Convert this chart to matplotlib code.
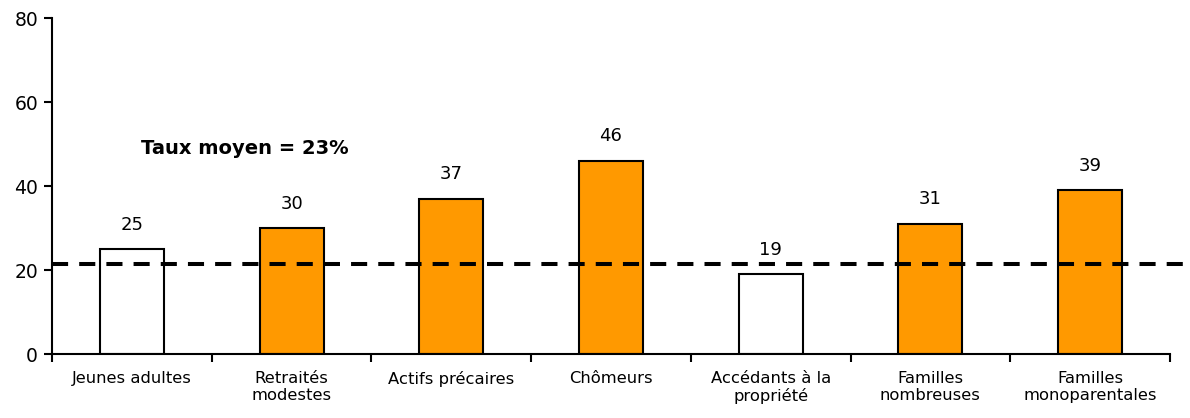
import matplotlib
matplotlib.use("Agg")
import matplotlib.pyplot as plt
import numpy as np

categories = ["Jeunes adultes", "Retraités\nmodestes", "Actifs précaires", "Chômeurs",
              "Accédants à la\npropriété", "Familles\nnombreuses", "Familles\nmonoparentales"]
values = [25, 30, 37, 46, 19, 31, 39]
highlight = [False, True, True, True, False, True, True]
mean_rate = 21.5
mean_label = "Taux moyen = 23%"
yticks = [0, 20, 40, 60, 80]

plt.rcParams['font.family'] = ['DejaVu Sans']
fig = plt.figure(figsize=(11.9, 4.18), dpi=100)
ax = fig.add_axes([52/1190, 64/418, (1170-52)/1190, (354-18)/418])

x = np.arange(len(categories))
colors = ["#FF9900" if h else "white" for h in highlight]
ax.bar(x, values, width=0.4, color=colors, edgecolor="black", linewidth=1.5, zorder=2)

for xi, v in zip(x, values):
    ax.annotate(str(v), (xi, v), xytext=(0, 17.5), textcoords="offset points",
                ha="center", va="center", fontsize=13)

ax.axhline(mean_rate, xmin=0, xmax=1.02, color="black", linestyle=(0, (4, 2.75)),
           linewidth=2.9, clip_on=False, zorder=3)
ax.text(0.055, 49, mean_label, fontsize=14, fontweight="bold", ha="left", va="center")

ax.set_xlim(-0.5, len(categories) - 0.5)
ax.set_ylim(0, 80)
ax.set_yticks(yticks)
ax.set_yticklabels([str(t) for t in yticks], fontsize=13.5)
ax.set_xticks(np.arange(len(categories) + 1) - 0.5)
ax.set_xticklabels([])
ax.set_xticks(x, minor=True)
ax.set_xticklabels(categories, minor=True, fontsize=11.8)
ax.tick_params(axis="x", which="minor", length=0, pad=12)
ax.tick_params(axis="x", which="major", length=6, width=1.5, direction="out")
ax.tick_params(axis="y", length=6, width=1.5, direction="out", pad=4)
for s in ["top", "right"]:
    ax.spines[s].set_visible(False)
for s in ["left", "bottom"]:
    ax.spines[s].set_linewidth(1.5)

fig.savefig("out.png", dpi=100)
